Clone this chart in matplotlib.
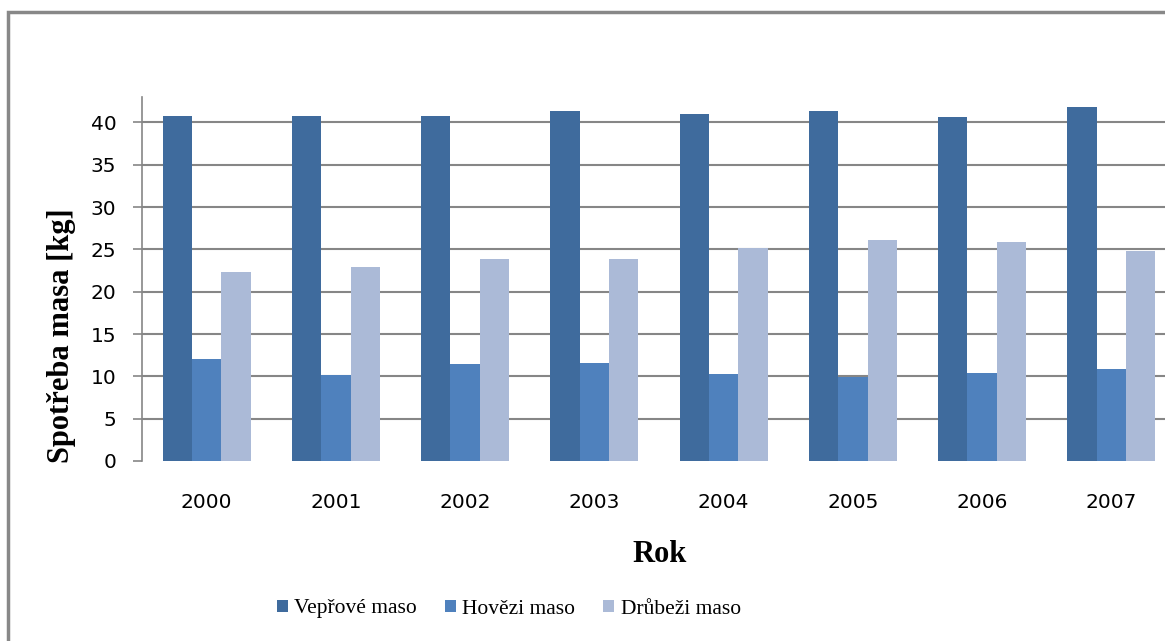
import matplotlib
matplotlib.use("Agg")
import matplotlib.pyplot as plt
import numpy as np
from matplotlib.patches import Rectangle

# per-capita meat consumption, kg
years = ["2000", "2001", "2002", "2003", "2004", "2005", "2006", "2007"]
series_names = ["Vepřové maso", "Hovězi maso", "Drůbeži maso"]
pork = [40.7, 40.7, 40.8, 41.4, 41.0, 41.3, 40.6, 41.8]
beef = [12.1, 10.2, 11.4, 11.6, 10.3, 9.9, 10.4, 10.9]
poultry = [22.3, 22.9, 23.9, 23.9, 25.2, 26.1, 25.9, 24.8]
y_ticks = [0, 5, 10, 15, 20, 25, 30, 35, 40]

colors = ["#3F6B9D", "#4F81BD", "#ABBAD7"]
W, H = 1165, 641

fig = plt.figure(figsize=(W / 100, H / 100), dpi=100)
ax = fig.add_axes([142 / W, 1 - 461 / H, (1176 - 142) / W, (461 - 97) / H])

x = np.arange(len(years))
bw = 0.227
for i, (vals, name) in enumerate(zip([pork, beef, poultry], series_names)):
    ax.bar(x + (i - 1) * bw, vals, width=bw, color=colors[i], label=name,
           zorder=3, linewidth=0)

ax.set_xlim(-0.5, len(years) - 0.5)
ax.set_ylim(0, 43.0)
ax.set_yticks(y_ticks)
ax.set_xticks(x)
ax.set_xticklabels(years)
# gridlines above zero only (no line along the base)
ax.hlines(y_ticks[1:], -0.5, len(years) - 0.5, color="#868686", lw=1.5,
          zorder=0)
for s in ["top", "right", "bottom"]:
    ax.spines[s].set_visible(False)
ax.spines["left"].set_color("#868686")
ax.spines["left"].set_linewidth(1.2)
ax.tick_params(axis="y", length=6.5, width=1.2, color="#868686", pad=12,
               labelsize=14.5)
ax.tick_params(axis="x", length=0, pad=23, labelsize=14.5)

ax.set_ylabel("Spotřeba masa [kg]", family="Liberation Serif",
              fontweight="bold", fontsize=22)
ax.yaxis.set_label_coords((76 - 142) / (1176 - 142), (461 - 336) / (461 - 97))
fig.text(660 / W, 1 - 554 / H, "Rok", family="Liberation Serif",
         fontweight="bold", fontsize=22, ha="center", va="center")

fig.legend(loc="center", bbox_to_anchor=(509 / W, 1 - 609 / H), ncol=3,
           frameon=False, prop={"family": "Liberation Serif", "size": 15.5},
           handlelength=0.5, handleheight=0.5, handletextpad=0.3,
           columnspacing=1.3)

fig.add_artist(Rectangle((8 / W, -0.1), 1.2, 1 - 12 / H + 0.1,
                         transform=fig.transFigure, fill=False,
                         edgecolor="#888888", lw=2.5, clip_on=False))

fig.savefig("out.png", dpi=100)
